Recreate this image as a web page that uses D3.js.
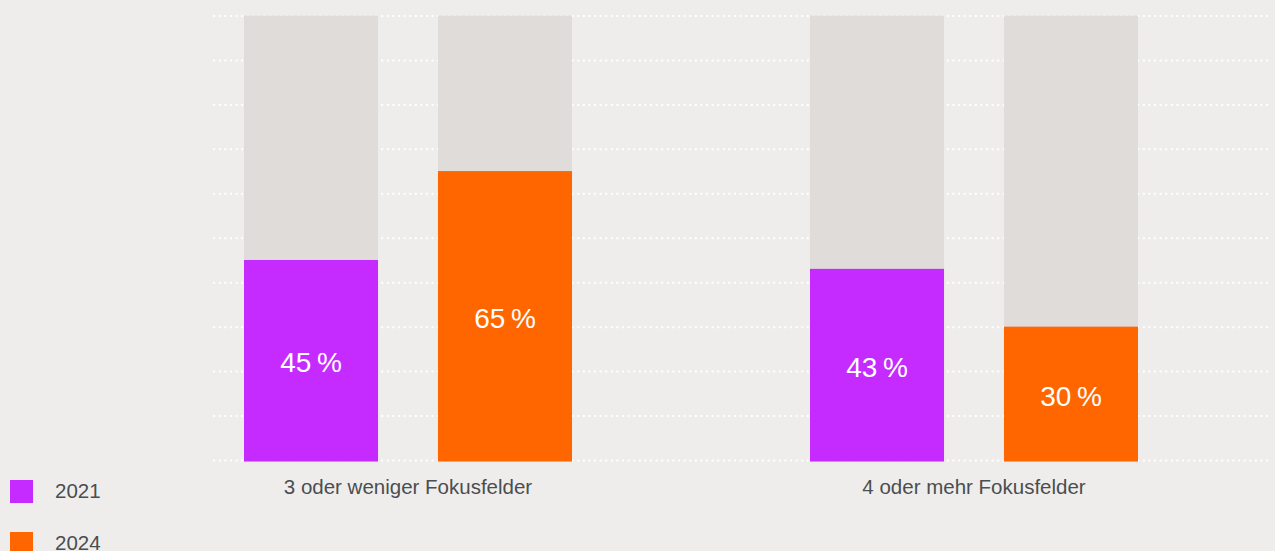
<!DOCTYPE html>
<html>
<head>
<meta charset="utf-8">
<script src="https://cdn.jsdelivr.net/npm/d3@7"></script>
<style>
    body { margin: 0; background: #efedeb; }
    svg { display: block; font-family: "Liberation Sans", Arial, sans-serif; }
    .grid line { stroke: #ffffff; stroke-width: 2; stroke-dasharray: 2 3.6; }
    .grid path { display: none; }
    .label { fill: #4a4e50; font-size: 20.5px; }
    .value { fill: #ffffff; font-size: 28px; }
</style>
</head>
<body>
<svg width="1275" height="551"></svg>
<script>
const groups = ['3 oder weniger Fokusfelder', '4 oder mehr Fokusfelder'];
const years = ['2021', '2024'];
const values2021 = [45, 43];
const values2024 = [65, 30];
const yTicks = [0, 10, 20, 30, 40, 50, 60, 70, 80, 90, 100];
const yearColors = { '2021': '#c52bff', '2024': '#ff6600' };

const data = groups.map((g, i) => ({
    group: g,
    bars: [
        { year: '2021', value: values2021[i] },
        { year: '2024', value: values2024[i] }
    ]
}));

const svg = d3.select('svg');

const gridLeft = 213;
const gridRight = 1268;

const yScale = d3.scaleLinear()
    .domain([0, 100])
    .range([460, 15.5]);

const x0 = d3.scaleBand()
    .domain(groups)
    .range([244, 1138])
    .paddingInner(0.4205);

const x1 = d3.scaleBand()
    .domain(years)
    .range([0, x0.bandwidth()])
    .paddingInner(0.309);

// dotted grid lines behind the bars
svg.append('g')
    .attr('class', 'grid')
    .attr('transform', `translate(${gridRight}, 0)`)
    .call(d3.axisLeft(yScale)
        .tickValues(yTicks)
        .tickSize(gridRight - gridLeft)
        .tickFormat('')
    );

const groupG = svg.selectAll('.group')
    .data(data)
    .enter()
    .append('g')
    .attr('class', 'group')
    .attr('transform', (d) => `translate(${x0(d.group)}, 0)`);

const barG = groupG.selectAll('.bar')
    .data((d) => d.bars)
    .enter()
    .append('g')
    .attr('class', 'bar');

// 100% track
barG.append('rect')
    .attr('x', (b) => x1(b.year))
    .attr('y', yScale(100))
    .attr('width', x1.bandwidth())
    .attr('height', yScale(0) - yScale(100) + 1.5)
    .attr('fill', '#e0dcda');

barG.append('rect')
    .attr('x', (b) => x1(b.year))
    .attr('y', (b) => yScale(b.value))
    .attr('width', x1.bandwidth())
    .attr('height', (b) => yScale(0) - yScale(b.value) + 1.5)
    .attr('fill', (b) => yearColors[b.year]);

barG.append('text')
    .attr('class', 'value')
    .attr('x', (b) => x1(b.year) + x1.bandwidth() / 2)
    .attr('y', (b) => (yScale(b.value) + yScale(0)) / 2 + 12.5)
    .attr('text-anchor', 'middle')
    .text((b) => `${b.value}\u2009%`);

groupG.append('text')
    .attr('class', 'label')
    .attr('x', x0.bandwidth() / 2)
    .attr('y', 494)
    .attr('text-anchor', 'middle')
    .text((d) => d.group);

// legend
const legend = svg.selectAll('.legend')
    .data(years)
    .enter()
    .append('g')
    .attr('class', 'legend')
    .attr('transform', (d, i) => `translate(10, ${480 + i * 52})`);

legend.append('rect')
    .attr('width', 23)
    .attr('height', 23)
    .attr('fill', (d) => yearColors[d]);

legend.append('text')
    .attr('class', 'label')
    .attr('x', 45)
    .attr('y', 18)
    .text((d) => d);
</script>
</body>
</html>
